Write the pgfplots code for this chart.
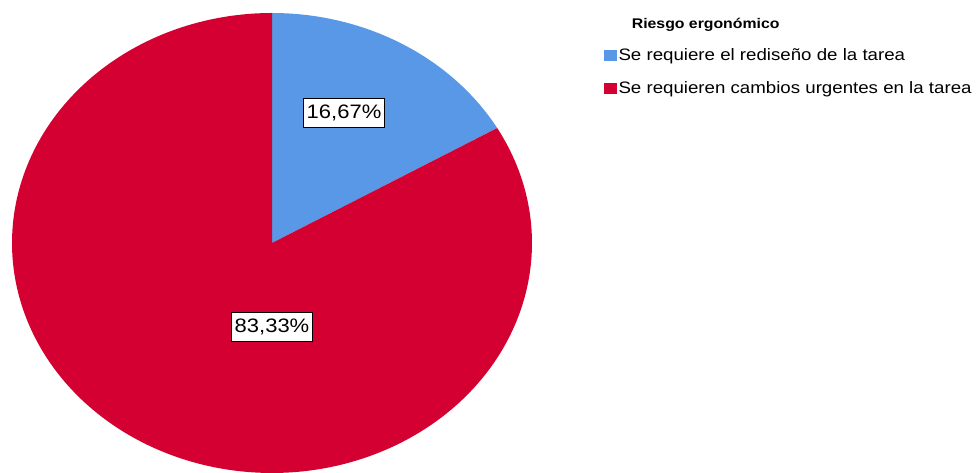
\documentclass[border=0pt]{standalone}
\usepackage{fontspec}
\setmainfont{Liberation Sans}[FakeStretch=1.13]
\usepackage{pgfplots}
\pgfplotsset{compat=1.18}
\definecolor{pieblue}{RGB}{88,152,230}
\definecolor{piered}{RGB}{213,0,50}
\begin{document}
\begin{tikzpicture}
\useasboundingbox (0,0) rectangle (732pt,354.75pt);
\begin{axis}[at={(9pt,0pt)}, anchor=south west, scale only axis,
  width=390pt, height=345pt, xmin=-1, xmax=1, ymin=-1, ymax=1,
  hide axis, clip=false,
  legend style={at={(1.137,0.994)}, anchor=north west, draw=none, fill=none,
    font=\fontsize{12.4pt}{14pt}\selectfont, row sep=11pt, inner sep=0pt,
    nodes={inner sep=1.5pt}},
  legend cell align=left,
  legend image code/.code={\fill[#1] (0pt,-4.1pt) rectangle (9.75pt,4.1pt);}
]
% shares (percent): 16.67, 83.33 ; start at 90 deg, clockwise
\addlegendimage{empty legend}
\addlegendentry{\hspace{10pt}\fontsize{10.5pt}{12pt}\selectfont\bfseries Riesgo ergonómico}
\addplot[fill=pieblue, draw=none, domain={90-3.6*16.67}:90, samples=60]
  ({cos(x)},{sin(x)}) -- (axis cs:0,0) -- cycle;
\addlegendentry{Se requiere el rediseño de la tarea}
\addplot[fill=piered, draw=none, domain={90-3.6*(16.67+83.33)}:{90-3.6*16.67}, samples=240]
  ({cos(x)},{sin(x)}) -- (axis cs:0,0) -- cycle;
\addlegendentry{Se requieren cambios urgentes en la tarea}
\node[draw=black, line width=0.75pt, fill=white, inner xsep=2.4pt, inner ysep=0pt,
  minimum height=21.75pt, font=\fontsize{14.6pt}{16pt}\selectfont]
  at (axis cs:0.277,0.567) {16,67\%};
\node[draw=black, line width=0.75pt, fill=white, inner xsep=2.4pt, inner ysep=0pt,
  minimum height=21.75pt, font=\fontsize{14.6pt}{16pt}\selectfont]
  at (axis cs:0,-0.365) {83,33\%};
\end{axis}
\end{tikzpicture}
\end{document}
